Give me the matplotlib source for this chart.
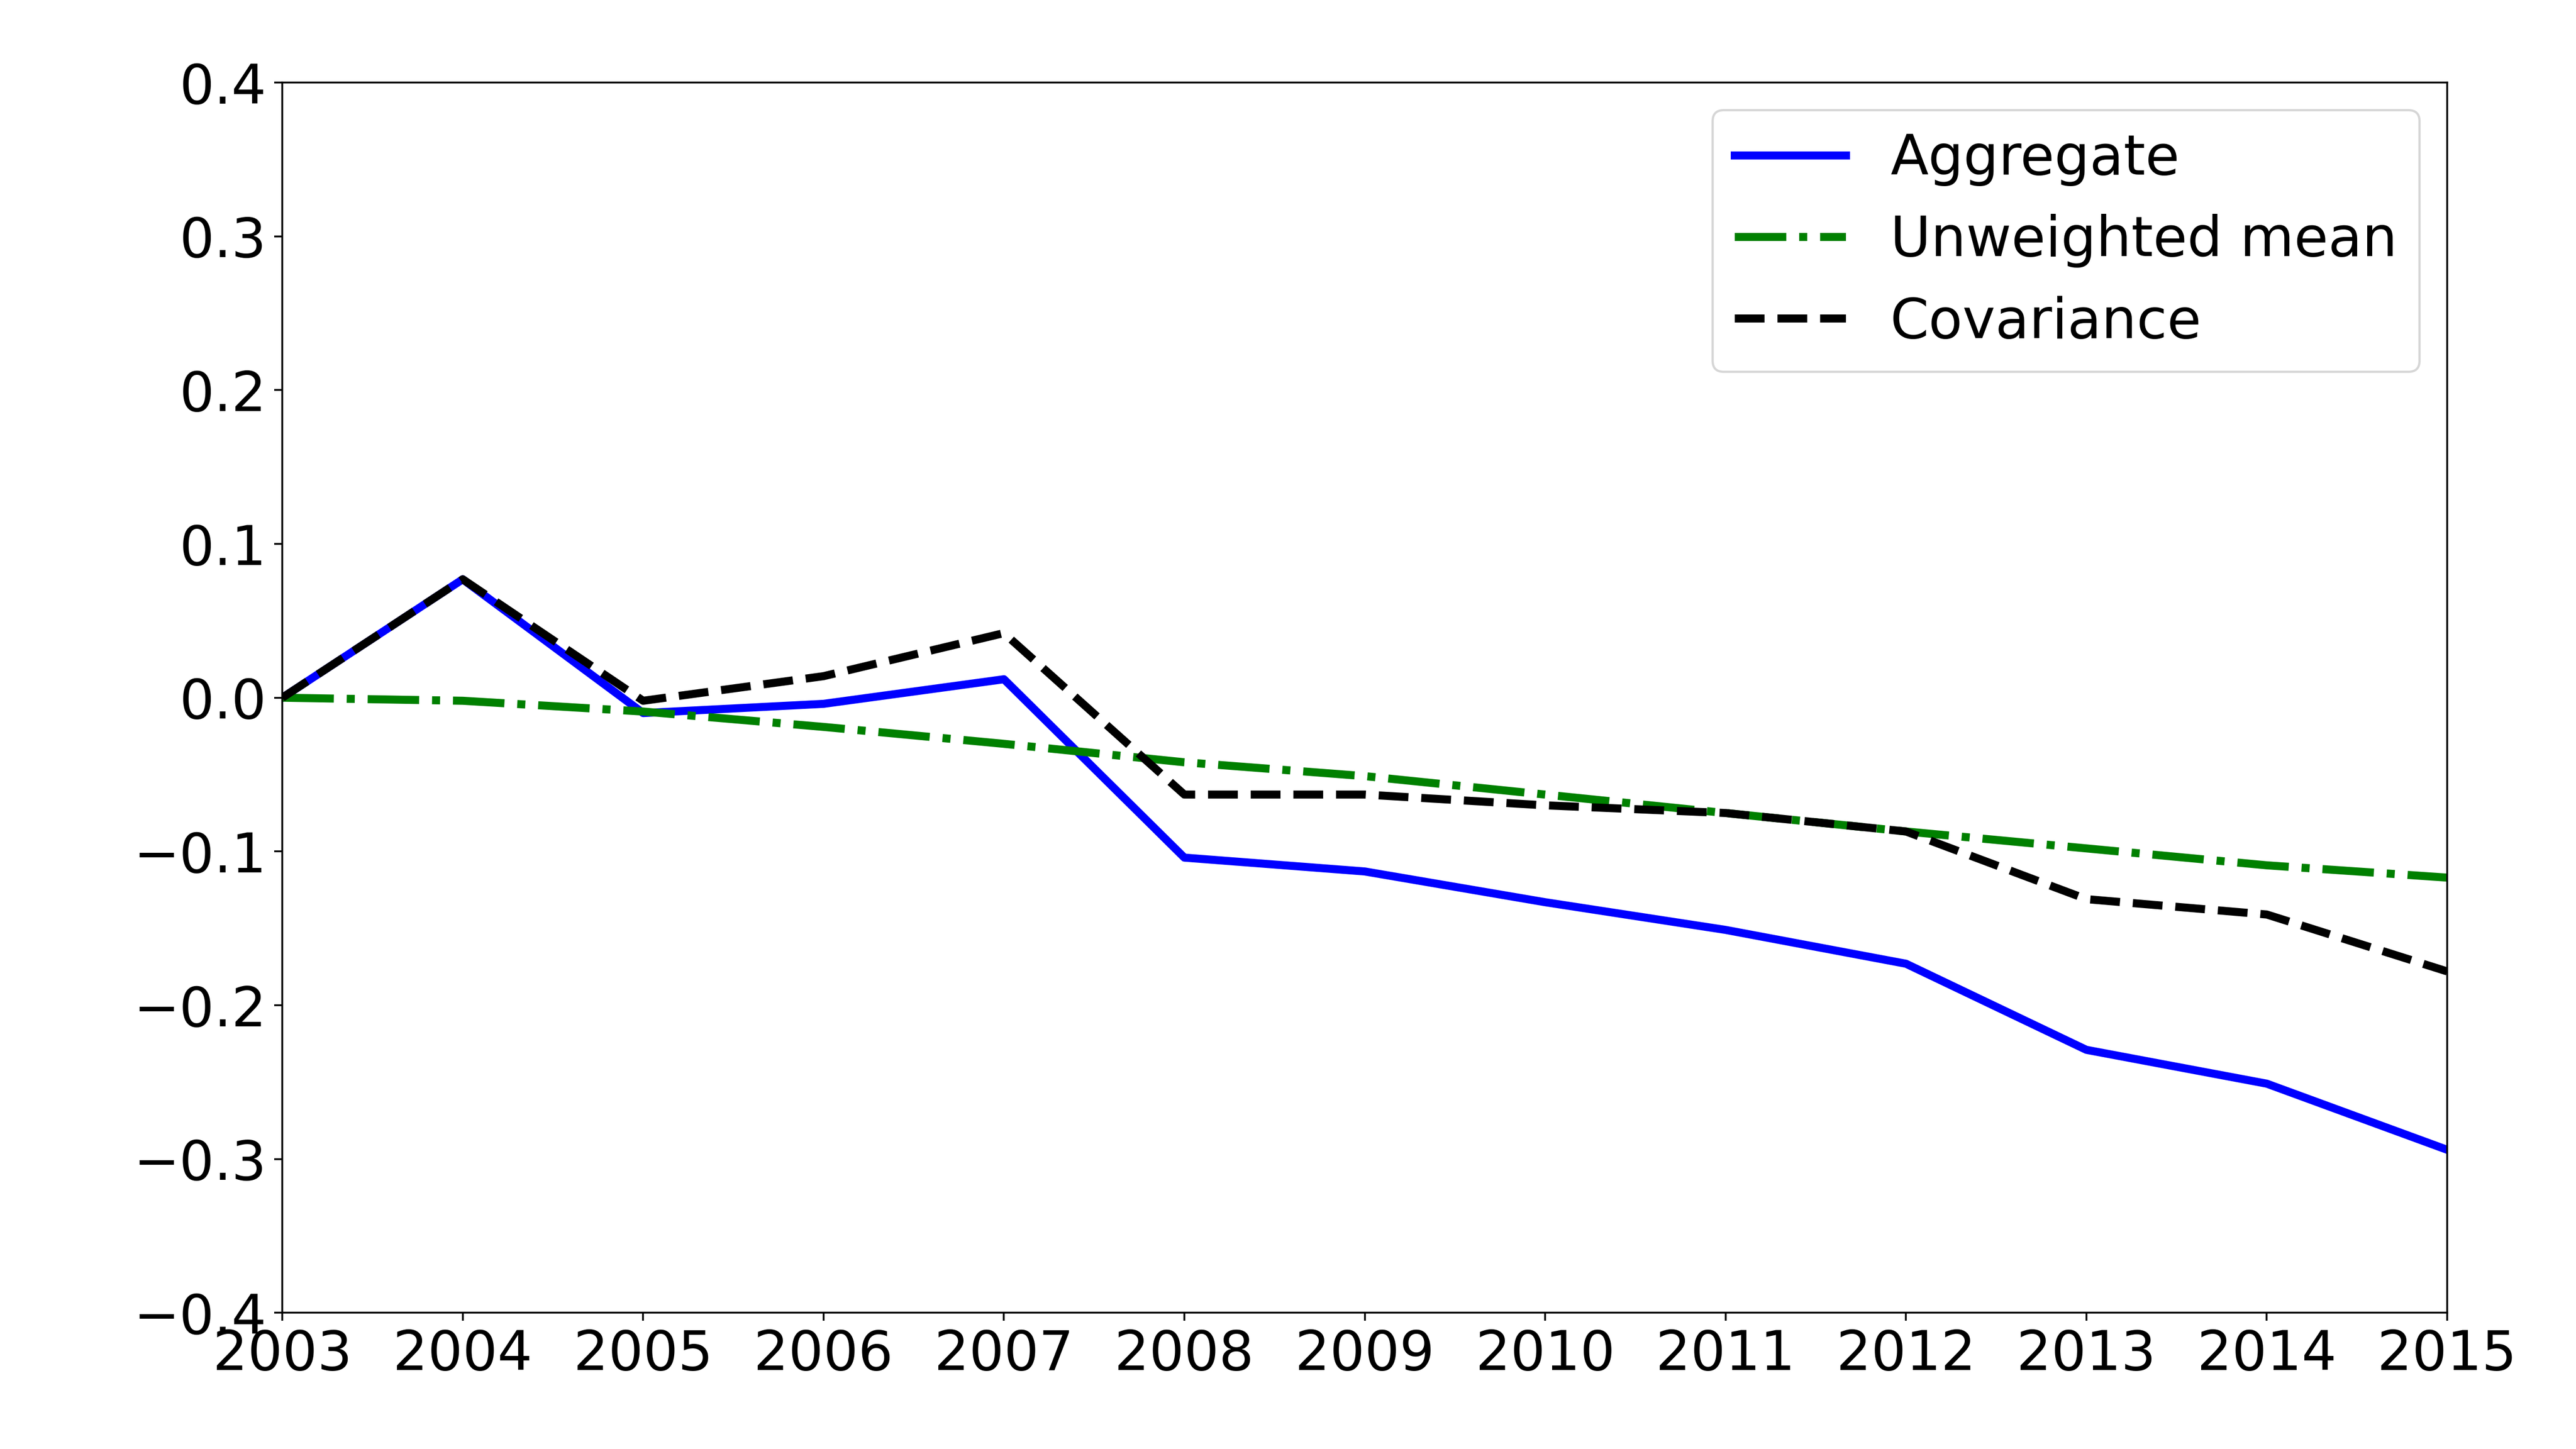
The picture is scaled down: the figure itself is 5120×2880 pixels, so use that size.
import matplotlib
matplotlib.use('Agg')
import matplotlib.pyplot as plt

years = [2003, 2004, 2005, 2006, 2007, 2008, 2009, 2010, 2011, 2012, 2013, 2014, 2015]
aggregate = [0.0, 0.077, -0.010, -0.004, 0.012, -0.104, -0.113, -0.133, -0.151, -0.173, -0.229, -0.251, -0.294]
unweighted = [0.0, -0.002, -0.009, -0.019, -0.030, -0.042, -0.051, -0.063, -0.075, -0.087, -0.098, -0.109, -0.117]
covariance = [0.0, 0.077, -0.002, 0.014, 0.042, -0.063, -0.063, -0.070, -0.075, -0.087, -0.131, -0.141, -0.178]

fig = plt.figure(figsize=(16, 9), dpi=320)
ax = fig.add_axes([0.1096, 0.094, 0.950 - 0.1096, 0.943 - 0.094])

ax.plot(years, aggregate, color='blue', linestyle='-', linewidth=3.6, label='Aggregate')
ax.plot(years, unweighted, color='green', linestyle='-.', linewidth=3.6, label='Unweighted mean')
ax.plot(years, covariance, color='black', linestyle='--', linewidth=3.6, label='Covariance')

ax.set_xlim(2003, 2015)
ax.set_ylim(-0.4, 0.4)
ax.set_xticks(years)
ax.set_yticks([-0.4, -0.3, -0.2, -0.1, 0.0, 0.1, 0.2, 0.3, 0.4])
ax.tick_params(labelsize=24.5)

ax.legend(loc='upper right', fontsize=24.8)

fig.savefig('out.png', dpi=320)
